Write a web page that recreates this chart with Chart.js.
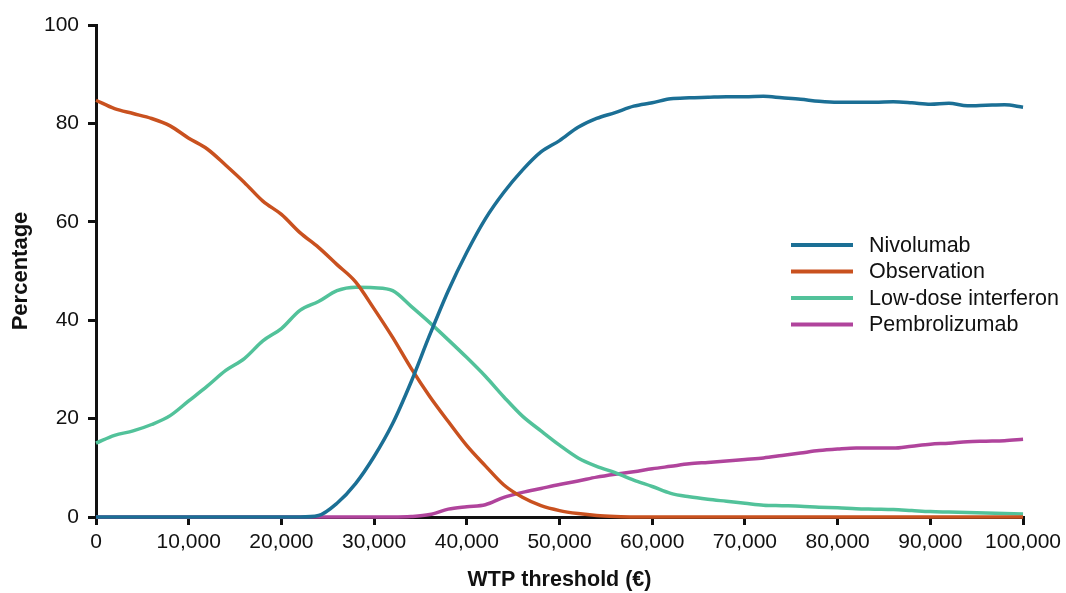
<!DOCTYPE html>
<html>
<head>
<meta charset="utf-8">
<script src="https://cdn.jsdelivr.net/npm/chart.js@4/dist/chart.umd.min.js"></script>
<style>
  html, body { margin: 0; padding: 0; background: #fff; }
  #wrap { width: 1066px; height: 593px; }
</style>
</head>
<body>
<div id="wrap"><canvas id="chart"></canvas></div>
<script>
// WTP thresholds (€)
const thresholds = [
  0, 2000, 4000, 6000, 8000, 10000, 12000, 14000, 16000, 18000,
  20000, 22000, 24000, 26000, 28000, 30000, 32000, 34000, 36000, 38000,
  40000, 42000, 44000, 46000, 48000, 50000, 52000, 54000, 56000, 58000,
  60000, 62000, 64000, 66000, 68000, 70000, 72000, 74000, 76000, 78000,
  80000, 82000, 84000, 86000, 88000, 90000, 92000, 94000, 96000, 98000,
  100000
];

const nivolumab = [
  0, 0, 0, 0, 0, 0, 0, 0, 0, 0,
  0, 0, 0.3, 2.8, 6.8, 12.3, 19.0, 27.5, 37.0, 46.0,
  53.8, 60.6, 66.0, 70.5, 74.2, 76.5, 79.2, 81.0, 82.2, 83.5,
  84.2, 85.0, 85.2, 85.3, 85.4, 85.4, 85.5, 85.2, 84.9, 84.5,
  84.3, 84.3, 84.3, 84.4, 84.2, 83.9, 84.1, 83.6, 83.7, 83.8,
  83.3
];

const observation = [
  84.7, 83.0, 82.0, 81.0, 79.5, 77.0, 74.8, 71.5, 68.0, 64.2,
  61.5, 57.8, 54.8, 51.3, 47.8, 42.3, 36.5, 30.2, 24.5, 19.4,
  14.5, 10.4, 6.5, 4.0, 2.3, 1.3, 0.7, 0.3, 0.1, 0,
  0, 0, 0, 0, 0, 0, 0, 0, 0, 0,
  0, 0, 0, 0, 0, 0, 0, 0, 0, 0,
  0
];

const lowDose = [
  15.0, 16.6, 17.5, 18.8, 20.6, 23.6, 26.6, 29.8, 32.2, 35.8,
  38.3, 42.0, 43.8, 46.0, 46.7, 46.6, 46.0, 42.8, 39.5, 36.0,
  32.4, 28.6, 24.4, 20.5, 17.5, 14.6, 12.0, 10.3, 9.0, 7.5,
  6.2, 4.8, 4.1, 3.6, 3.2, 2.8, 2.4, 2.3, 2.2, 2.0,
  1.9, 1.7, 1.6, 1.5, 1.3, 1.1, 1.0, 0.9, 0.8, 0.7,
  0.6
];

const pembrolizumab = [
  0, 0, 0, 0, 0, 0, 0, 0, 0, 0,
  0, 0, 0, 0, 0, 0, 0, 0.1, 0.5, 1.6,
  2.1, 2.5, 4.0, 5.0, 5.8, 6.6, 7.3, 8.1, 8.7, 9.2,
  9.8, 10.3, 10.8, 11.1, 11.4, 11.7, 12.0, 12.5, 13.0, 13.5,
  13.8, 14.0, 14.0, 14.0, 14.4, 14.8, 15.0, 15.3, 15.4, 15.5,
  15.8
];

const xTicks = [0, 10000, 20000, 30000, 40000, 50000, 60000, 70000, 80000, 90000, 100000];
const yTicks = [0, 20, 40, 60, 80, 100];

const series = [
  { label: "Nivolumab", values: nivolumab, color: "#1b6f95" },
  { label: "Observation", values: observation, color: "#c9511f" },
  { label: "Low-dose interferon", values: lowDose, color: "#52c29a" },
  { label: "Pembrolizumab", values: pembrolizumab, color: "#b0449c" }
];

const FONT = "'Liberation Sans', Arial, Helvetica, sans-serif";
const INK = "#111";

// simple legend drawn inside the plot, like the original
const innerLegend = {
  id: "innerLegend",
  afterDraw(chart) {
    const ctx = chart.ctx;
    const x0 = 791, y0 = 245, rowH = 26.5;
    ctx.save();
    ctx.font = "21.5px " + FONT;
    ctx.textBaseline = "middle";
    chart.data.datasets.forEach((ds, i) => {
      const y = y0 + i * rowH;
      ctx.strokeStyle = ds.borderColor;
      ctx.lineWidth = 4;
      ctx.beginPath();
      ctx.moveTo(x0, y);
      ctx.lineTo(x0 + 62, y);
      ctx.stroke();
      ctx.fillStyle = INK;
      ctx.fillText(ds.label, x0 + 78, y + 1);
    });
    ctx.restore();
  }
};

new Chart(document.getElementById("chart"), {
  type: "line",
  data: {
    datasets: series.map((s) => ({
      label: s.label,
      data: thresholds.map((t, i) => ({ x: t, y: s.values[i] })),
      borderColor: s.color,
      backgroundColor: s.color,
      borderWidth: 3.5,
      pointRadius: 0,
      cubicInterpolationMode: "monotone",
      clip: false
    }))
  },
  options: {
    responsive: true,
    maintainAspectRatio: false,
    animation: false,
    layout: { padding: { top: 25, right: 41, left: 0, bottom: 0 } },
    plugins: {
      legend: { display: false },
      tooltip: { enabled: false }
    },
    scales: {
      x: {
        type: "linear",
        min: 0,
        max: 100000,
        afterFit: (s) => { s.height = 76; },
        afterBuildTicks: (s) => { s.ticks = xTicks.map((v) => ({ value: v })); },
        ticks: {
          color: INK,
          font: { family: FONT, size: 21 },
          padding: 5,
          maxRotation: 0,
          callback: (v) => v.toLocaleString("en-US")
        },
        grid: { drawOnChartArea: false, drawTicks: true, tickLength: 8, color: INK, lineWidth: 3 },
        border: { display: true, color: INK, width: 3 },
        title: {
          display: true,
          text: "WTP threshold (€)",
          color: INK,
          font: { family: FONT, size: 21.5, weight: "bold" },
          padding: { top: 0, bottom: 0 }
        }
      },
      y: {
        min: 0,
        max: 100,
        afterFit: (s) => { s.width = 96; },
        afterBuildTicks: (s) => { s.ticks = yTicks.map((v) => ({ value: v })); },
        ticks: {
          color: INK,
          font: { family: FONT, size: 21 },
          padding: 9
        },
        grid: { drawOnChartArea: false, drawTicks: true, tickLength: 8, color: INK, lineWidth: 3 },
        border: { display: true, color: INK, width: 3 },
        title: {
          display: true,
          text: "Percentage",
          color: INK,
          font: { family: FONT, size: 22, weight: "bold" },
          padding: { top: 8, bottom: 0 }
        }
      }
    }
  },
  plugins: [innerLegend]
});
</script>
</body>
</html>
